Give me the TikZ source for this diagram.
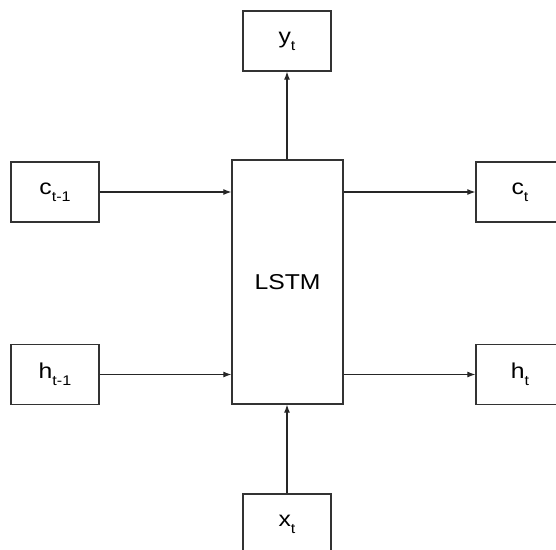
\documentclass[tikz,border=0pt]{standalone}
\usepackage{fontspec}
\setmainfont{Liberation Sans}
\usetikzlibrary{arrows.meta}
\newcommand\lsub[1]{\raisebox{-7pt}{\fontsize{14}{14}\selectfont #1}}
\newcommand\wide[1]{\scalebox{1.15}[1]{#1}}
\begin{document}
\begin{tikzpicture}[x=1pt,y=-1pt,
  box/.style={draw=black!80, line width=1.3pt, minimum width=88pt, minimum height=60pt, inner sep=0pt, font=\fontsize{21.5}{24}\selectfont},
  conn/.style={draw=black!85, line width=1.1pt, -{Latex[length=8pt,width=6pt]}}]
\useasboundingbox (0,0) rectangle (556,549);
\clip (0,0) rectangle (556,549);
\node[box, minimum width=111pt, minimum height=244pt] (lstm) at (287.5,282) {\wide{LSTM}};
\node[box] (yt) at (287,41) {\wide{y\lsub{t}}};
\node[box] (c1) at (55,192) {\wide{c\lsub{t-1}}};
\node[box] (h1) at (55,374.5) {\wide{h\lsub{t-1}}};
\node[box] (ct) at (520,192) {\wide{c\lsub{t}}};
\node[box] (ht) at (520,374.5) {\wide{h\lsub{t}}};
\node[box] (xt) at (287,524) {\wide{x\lsub{t}}};
\draw[conn] (c1.east) -- (c1.east -| lstm.west);
\draw[conn] (h1.east) -- (h1.east -| lstm.west);
\draw[conn] (ct.west -| lstm.east) -- (ct.west);
\draw[conn] (ht.west -| lstm.east) -- (ht.west);
\draw[conn] (yt.south |- lstm.north) -- (yt.south);
\draw[conn] (xt.north) -- (xt.north |- lstm.south);
\end{tikzpicture}
\end{document}
